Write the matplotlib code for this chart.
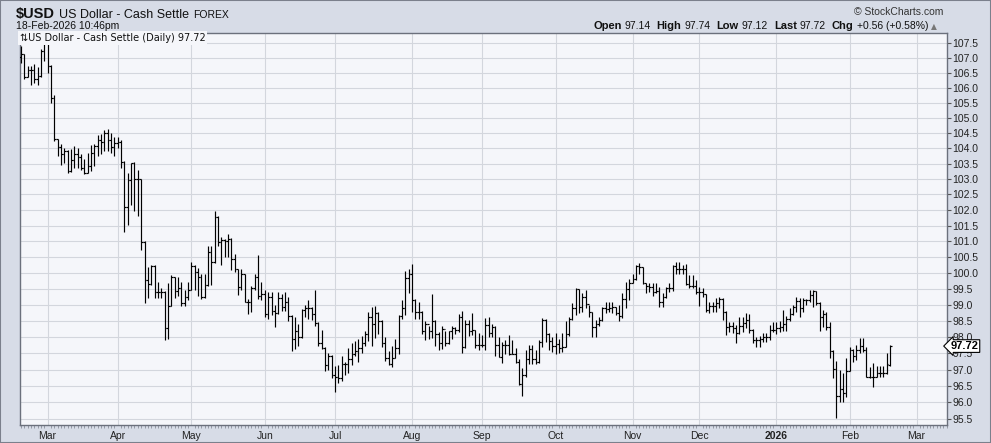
import numpy as np
import pandas as pd
import matplotlib
matplotlib.use("Agg")
import matplotlib.pyplot as plt
import matplotlib.transforms as mtransforms
from matplotlib.ticker import NullLocator
from matplotlib.patches import Rectangle

plt.rcParams['font.family'] = ['Liberation Sans', 'DejaVu Sans']

# daily bars, 19-Feb-2025 .. 18-Feb-2026 (weekdays)
dates = pd.bdate_range('2025-02-19', '2026-02-18')

opens = [
    107.05, 107.15, 106.35, 106.60, 106.60, 106.30, 106.40, 107.25, 107.55, 106.75,
    105.65, 104.30, 104.04, 103.83, 103.92, 103.26, 103.61, 103.80, 103.73, 103.37,
    103.20, 103.42, 103.86, 104.07, 104.29, 104.21, 104.52, 104.27, 104.04, 104.17,
    104.20, 103.57, 102.10, 102.98, 103.51, 102.99, 102.99, 100.97, 99.78, 99.65,
    100.23, 99.41, 99.39, 99.39, 98.29, 98.95, 99.88, 99.42, 99.52, 99.05,
    99.24, 99.47, 100.21, 100.03, 99.86, 99.23, 99.62, 100.66, 100.34, 101.79,
    100.97, 101.04, 101.00, 101.07, 100.45, 100.11, 99.55, 99.97, 99.10, 99.10,
    99.52, 99.86, 99.27, 99.34, 98.70, 99.24, 98.80, 98.75, 99.21, 98.93,
    99.10, 98.65, 97.94, 98.18, 97.99, 98.84, 98.91, 98.91, 98.72, 98.42,
    97.83, 97.67, 97.13, 97.42, 96.84, 96.76, 96.74, 97.16, 97.16, 97.33,
    97.49, 97.57, 97.66, 97.83, 98.09, 98.61, 98.41, 98.74, 98.49, 97.83,
    97.34, 97.18, 97.36, 97.66, 98.65, 98.90, 99.83, 99.97, 99.16, 98.77,
    98.77, 98.17, 98.41, 98.18, 98.51, 98.09, 97.83, 98.25, 97.83, 98.17,
    98.28, 98.22, 98.62, 97.68, 98.40, 98.19, 98.22, 97.75, 97.75, 97.75,
    98.37, 98.11, 98.32, 97.75, 97.39, 97.75, 97.75, 97.49, 97.49, 97.23,
    96.56, 96.82, 97.31, 97.62, 97.31, 97.23, 97.86, 98.53, 98.09, 97.89,
    97.73, 97.78, 97.67, 97.70, 98.08, 98.55, 98.89, 99.48, 98.94, 99.23,
    99.03, 98.77, 98.30, 98.40, 98.53, 98.89, 98.86, 98.89, 98.92, 98.74,
    98.65, 99.17, 99.48, 99.69, 99.82, 100.21, 100.17, 99.69, 99.59, 99.57,
    99.41, 99.44, 99.10, 99.25, 99.51, 99.51, 100.21, 100.13, 100.13, 100.13,
    99.65, 99.58, 99.58, 99.41, 99.41, 99.33, 98.83, 98.96, 98.96, 99.06,
    99.17, 98.78, 98.32, 98.34, 98.27, 98.13, 98.34, 98.44, 98.54, 98.23,
    97.91, 97.91, 97.93, 97.99, 98.01, 98.21, 98.23, 98.28, 98.30, 98.40,
    98.57, 98.72, 98.93, 99.13, 98.90, 99.15, 99.15, 99.32, 99.42, 99.06,
    98.62, 98.70, 98.32, 97.57, 97.01, 96.19, 96.40, 96.30, 96.97, 97.60,
    97.42, 97.60, 97.72, 97.60, 96.78, 96.78, 96.78, 96.88, 96.88, 96.88,
    97.14,
]

highs = [
    107.40, 107.15, 106.75, 106.75, 106.80, 106.70, 107.30, 107.70, 107.60, 106.78,
    105.75, 104.32, 104.13, 104.02, 103.95, 103.97, 104.07, 104.02, 103.80, 103.64,
    103.86, 104.11, 104.13, 104.43, 104.47, 104.61, 104.64, 104.52, 104.36, 104.36,
    104.29, 103.60, 103.20, 103.53, 103.55, 103.31, 103.00, 101.00, 100.19, 100.26,
    100.25, 99.72, 99.52, 99.42, 99.67, 99.93, 99.88, 99.88, 99.72, 99.47,
    99.72, 100.34, 100.24, 100.14, 99.98, 99.98, 100.86, 100.86, 101.98, 101.80,
    101.13, 101.06, 101.23, 101.10, 100.60, 100.12, 100.13, 99.97, 99.19, 99.60,
    99.97, 100.56, 99.71, 99.45, 99.40, 99.40, 98.98, 99.40, 99.34, 99.40,
    99.24, 98.68, 98.61, 98.41, 98.88, 99.00, 99.16, 98.93, 99.45, 98.45,
    98.23, 97.70, 97.52, 97.45, 97.10, 97.13, 97.42, 97.24, 97.65, 97.83,
    97.89, 97.94, 98.04, 98.20, 98.77, 98.93, 98.96, 98.76, 98.54, 97.99,
    97.57, 97.73, 97.94, 98.67, 99.14, 100.07, 100.13, 100.28, 99.18, 99.08,
    98.82, 98.48, 98.35, 99.34, 98.54, 98.15, 98.35, 98.20, 98.18, 98.35,
    98.32, 98.72, 98.81, 98.53, 98.53, 98.74, 98.22, 98.11, 98.06, 98.58,
    98.63, 98.40, 98.34, 98.01, 97.86, 97.91, 98.06, 97.91, 97.65, 97.33,
    97.04, 97.60, 97.75, 97.75, 97.60, 97.91, 98.58, 98.55, 98.13, 97.99,
    98.11, 97.93, 98.11, 98.48, 98.63, 99.05, 99.51, 99.50, 99.36, 99.46,
    98.99, 98.78, 98.53, 98.63, 98.94, 99.10, 99.10, 99.10, 98.94, 98.99,
    99.36, 99.72, 99.82, 99.96, 100.24, 100.31, 100.18, 99.69, 99.69, 99.69,
    99.67, 99.57, 99.38, 99.57, 99.67, 100.24, 100.34, 100.34, 100.24, 100.27,
    99.93, 99.93, 99.79, 99.56, 99.51, 99.35, 99.09, 99.09, 99.20, 99.25,
    99.20, 98.80, 98.47, 98.47, 98.37, 98.63, 98.63, 98.73, 98.70, 98.25,
    98.01, 98.03, 98.11, 98.11, 98.37, 98.47, 98.45, 98.50, 98.85, 98.65,
    98.90, 99.00, 99.25, 99.20, 99.20, 99.18, 99.46, 99.46, 99.43, 99.08,
    98.84, 98.78, 98.47, 97.60, 97.27, 97.00, 96.90, 97.35, 97.70, 97.62,
    97.76, 97.96, 97.96, 97.68, 97.07, 97.20, 97.10, 97.10, 97.10, 97.50,
    97.74,
]

lows = [
    106.85, 106.30, 106.35, 106.10, 106.15, 106.10, 106.38, 106.90, 106.50, 105.50,
    104.25, 103.75, 103.46, 103.53, 103.20, 103.24, 103.37, 103.37, 103.31, 103.17,
    103.20, 103.26, 103.42, 103.75, 103.83, 103.93, 103.91, 103.86, 103.75, 104.00,
    103.37, 101.29, 101.53, 102.17, 101.98, 101.82, 100.71, 99.05, 99.21, 99.62,
    99.21, 99.21, 99.21, 97.92, 97.95, 98.95, 99.21, 99.26, 98.95, 98.95,
    99.16, 99.45, 99.47, 99.26, 99.18, 99.20, 99.60, 99.62, 100.30, 100.86,
    100.24, 100.50, 100.50, 100.08, 100.03, 99.29, 99.45, 99.08, 98.72, 98.77,
    99.45, 99.19, 99.14, 98.61, 98.56, 98.67, 98.32, 98.72, 98.82, 98.82,
    98.51, 97.57, 97.63, 97.73, 97.97, 98.61, 98.56, 98.54, 98.35, 97.73,
    97.63, 96.95, 96.98, 96.74, 96.32, 96.58, 96.64, 96.84, 96.88, 97.13,
    97.42, 97.23, 97.52, 97.73, 97.89, 97.73, 97.96, 98.09, 97.68, 97.26,
    97.15, 97.08, 97.34, 97.47, 98.56, 98.69, 99.38, 98.77, 98.56, 98.56,
    98.09, 97.92, 97.94, 97.96, 97.73, 97.60, 97.63, 97.73, 97.78, 97.94,
    98.09, 98.14, 97.51, 97.65, 98.03, 98.06, 97.65, 97.60, 97.70, 97.60,
    97.99, 97.99, 97.41, 97.37, 97.20, 97.49, 97.44, 97.47, 97.20, 96.53,
    96.18, 96.77, 97.18, 97.18, 97.18, 97.20, 97.70, 97.86, 97.60, 97.54,
    97.49, 97.51, 97.54, 97.68, 98.03, 98.53, 98.68, 98.74, 98.79, 98.89,
    98.63, 97.99, 97.99, 98.34, 98.48, 98.74, 98.79, 98.74, 98.68, 98.50,
    98.58, 98.89, 99.15, 99.69, 99.77, 99.98, 99.65, 99.36, 99.41, 99.27,
    99.36, 98.94, 98.94, 99.20, 99.41, 99.44, 99.98, 99.98, 99.98, 99.61,
    99.51, 99.51, 99.35, 98.96, 99.25, 98.78, 98.73, 98.78, 98.78, 98.89,
    98.54, 98.06, 98.16, 98.11, 97.83, 98.10, 98.16, 98.27, 98.13, 97.80,
    97.70, 97.70, 97.86, 97.86, 97.91, 98.16, 98.10, 98.15, 98.20, 98.20,
    98.50, 98.68, 98.78, 98.63, 98.78, 99.00, 99.10, 98.94, 98.99, 98.20,
    98.32, 98.21, 97.34, 96.73, 95.52, 96.00, 96.00, 96.15, 96.95, 97.24,
    97.30, 97.50, 97.55, 96.78, 96.73, 96.48, 96.78, 96.78, 96.78, 96.86,
    97.12,
]

closes = [
    107.15, 106.35, 106.60, 106.60, 106.30, 106.40, 107.25, 107.55, 106.75, 105.65,
    104.30, 104.04, 103.83, 103.92, 103.26, 103.61, 103.80, 103.73, 103.37, 103.20,
    103.42, 103.86, 104.07, 104.29, 104.21, 104.52, 104.27, 104.04, 104.17, 104.20,
    103.57, 102.10, 102.98, 103.51, 102.99, 102.99, 100.97, 99.78, 99.65, 100.23,
    99.41, 99.39, 99.39, 98.29, 98.95, 99.88, 99.42, 99.52, 99.05, 99.24,
    99.47, 100.21, 100.03, 99.86, 99.23, 99.62, 100.66, 100.34, 101.79, 100.97,
    101.04, 101.00, 101.07, 100.45, 100.11, 99.55, 99.97, 99.10, 99.10, 99.52,
    99.86, 99.27, 99.34, 98.70, 99.24, 98.80, 98.75, 99.21, 98.93, 99.10,
    98.65, 97.94, 98.18, 97.99, 98.84, 98.91, 98.91, 98.72, 98.42, 97.83,
    97.67, 97.13, 97.42, 96.84, 96.76, 96.74, 97.16, 97.16, 97.33, 97.49,
    97.57, 97.66, 97.83, 98.09, 98.61, 98.41, 98.74, 98.49, 97.83, 97.34,
    97.18, 97.36, 97.66, 98.65, 98.90, 99.83, 99.97, 99.16, 98.77, 98.77,
    98.17, 98.41, 98.18, 98.51, 98.09, 97.83, 98.25, 97.83, 98.17, 98.28,
    98.22, 98.62, 97.68, 98.40, 98.19, 98.22, 97.75, 97.75, 97.75, 98.37,
    98.11, 98.32, 97.75, 97.39, 97.75, 97.75, 97.49, 97.49, 97.23, 96.56,
    96.82, 97.31, 97.62, 97.31, 97.23, 97.86, 98.53, 98.09, 97.89, 97.73,
    97.78, 97.67, 97.70, 98.08, 98.55, 98.89, 99.48, 98.94, 99.23, 99.03,
    98.77, 98.30, 98.40, 98.53, 98.89, 98.86, 98.89, 98.92, 98.74, 98.65,
    99.17, 99.48, 99.69, 99.82, 100.21, 100.17, 99.69, 99.59, 99.57, 99.41,
    99.44, 99.10, 99.25, 99.51, 99.51, 100.21, 100.13, 100.13, 100.13, 99.65,
    99.58, 99.58, 99.41, 99.41, 99.33, 98.83, 98.96, 98.96, 99.06, 99.17,
    98.78, 98.32, 98.34, 98.27, 98.13, 98.34, 98.44, 98.54, 98.23, 97.91,
    97.91, 97.93, 97.99, 98.01, 98.21, 98.23, 98.28, 98.30, 98.40, 98.57,
    98.72, 98.93, 99.13, 98.90, 99.15, 99.15, 99.32, 99.42, 99.06, 98.62,
    98.70, 98.32, 97.57, 97.01, 96.19, 96.40, 96.30, 96.97, 97.60, 97.42,
    97.60, 97.72, 97.60, 96.78, 96.78, 96.78, 96.88, 96.88, 96.88, 97.16,
    97.72,
]

y_ticks = [95.5, 96.0, 96.5, 97.0, 97.5, 98.0, 98.5, 99.0, 99.5, 100.0, 100.5,
           101.0, 101.5, 102.0, 102.5, 103.0, 103.5, 104.0, 104.5, 105.0, 105.5,
           106.0, 106.5, 107.0, 107.5]
last_price = 97.72
quote_parts = [('Open', True), ('97.14', False), ('High', True), ('97.74', False),
               ('Low', True), ('97.12', False), ('Last', True), ('97.72', False),
               ('Chg', True), ('+0.56 (+0.58%)', False)]

W, H = 991, 443
fig = plt.figure(figsize=(W / 100, H / 100), dpi=100, facecolor='#d7dce7')
ax = fig.add_axes([19.5 / W, 1 - 425 / H, (946.7 - 19.5) / W, (425 - 33) / H])
ax.set_facecolor('#f5f6fa')

# trading-day positions (axis runs a few days past the last bar)
axis_days = pd.bdate_range('2025-02-19', '2026-03-13')
x = np.arange(len(dates))

# OHLC bars
ax.vlines(x, lows, highs, color='black', lw=0.85, zorder=3)
ax.hlines(opens, x - 0.5, x, color='black', lw=0.85, zorder=3)
ax.hlines(closes, x, x + 0.5, color='black', lw=0.85, zorder=3)

ax.set_yscale('log')
ax.set_ylim(95.32, 107.85)
ax.set_xlim(-0.4, 272.0)

ax.yaxis.tick_right()
ax.set_yticks(y_ticks)
ax.set_yticklabels([f'{t:.1f}' for t in y_ticks])
ax.yaxis.set_minor_locator(NullLocator())
ax.tick_params(axis='y', which='major', length=3, width=0.8, color='#555555',
               labelsize=7.5, labelcolor='#222222', pad=1)

# month ticks
pos, labs = [], []
for i in range(1, len(axis_days)):
    if axis_days[i].month != axis_days[i - 1].month:
        pos.append(i)
        labs.append('2026' if axis_days[i].month == 1 else axis_days[i].strftime('%b'))
ax.set_xticks(pos)
ax.set_xticklabels(labs)
ax.set_xticks(np.arange(len(axis_days)), minor=True)
ax.tick_params(axis='x', which='major', length=0, labelsize=7.5, labelcolor='#222222', pad=4)
ax.tick_params(axis='x', which='minor', length=2, width=0.6, color='#8a8f9a')
for t in ax.get_xticklabels():
    if t.get_text() == '2026':
        t.set_fontweight('bold')

ax.grid(True, which='major', color='#d3d6dd', lw=0.8)
ax.set_axisbelow(True)
for s in ax.spines.values():
    s.set_color('#6b707c')
    s.set_linewidth(1.0)

# legend label inside the plot
ax.text(0.0, 1.0, '\u21c5US Dollar - Cash Settle (Daily) 97.72', transform=ax.transAxes,
        ha='left', va='top', fontsize=7, family=['DejaVu Sans'], color='#111111',
        bbox=dict(fc='#f5f6fa', ec='none', pad=1.2), zorder=6)

# last price marker
trans = mtransforms.blended_transform_factory(ax.transAxes, ax.transData)
ax.text(1.004, last_price, '97.72', transform=trans, ha='left', va='center',
        fontsize=8, fontweight='bold', color='black', clip_on=False, zorder=7,
        bbox=dict(boxstyle='larrow,pad=0.12', fc='white', ec='black', lw=0.8))


def fx(px):
    return px / W


def fy(py):
    return 1 - py / H


renderer = fig.canvas.get_renderer()

# header line 1
xcur = 16
for s, size, weight in [('$USD', 10.5, 'bold'), ('US Dollar - Cash Settle', 9, 'normal'),
                        ('FOREX', 7.5, 'normal')]:
    t = fig.text(fx(xcur), fy(18), s, fontsize=size, fontweight=weight, color='#111111')
    xcur += t.get_window_extent(renderer=renderer).width + 4
fig.text(fx(16), fy(29), '18-Feb-2026 10:46pm', fontsize=7.5, color='#111111')
fig.text(fx(943), fy(15), '\u00a9 StockCharts.com', fontsize=7.5, color='#333333', ha='right')

# quote line
xcur = 593
for s, b in quote_parts:
    t = fig.text(fx(xcur), fy(29), s, fontsize=8 if b else 7.5,
                 fontweight='bold' if b else 'normal', color='#111111')
    xcur += t.get_window_extent(renderer=renderer).width + (3 if b else 6)
fig.text(fx(xcur - 3), fy(29), '\u25b2', fontsize=5.5, color='#777777', family=['DejaVu Sans'])

fig.patches.append(Rectangle((0, 0), 1, 1, transform=fig.transFigure, fill=False,
                             ec='#7b808c', lw=1.5))

fig.savefig('out.png', dpi=100, facecolor=fig.get_facecolor())
